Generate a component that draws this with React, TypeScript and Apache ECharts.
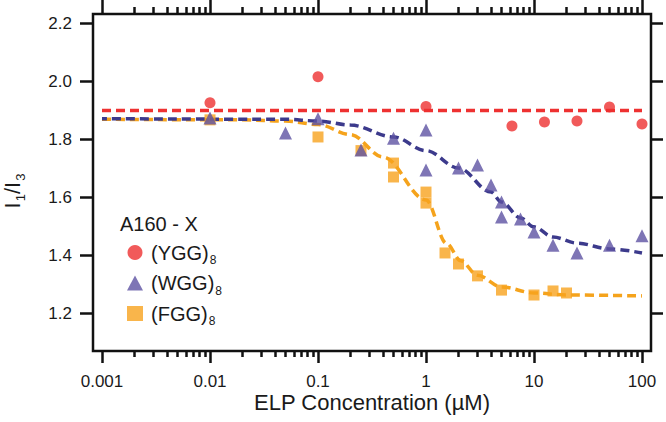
import React, { useEffect, useRef } from 'react';
import * as echarts from 'echarts';

// ---------- data ----------
const yggX = [0.01, 0.1, 1, 6.25, 12.5, 25, 50, 100];
const yggY = [1.925, 2.015, 1.912, 1.845, 1.859, 1.862, 1.91, 1.852];

const wggX = [0.01, 0.05, 0.1, 0.25, 0.5, 1, 1, 2, 3, 4, 5, 5, 7.5, 10, 15, 25, 50, 100];
const wggY = [1.872, 1.821, 1.87, 1.762, 1.803, 1.831, 1.693, 1.7, 1.71, 1.641, 1.583, 1.531, 1.524, 1.479, 1.434, 1.407, 1.434, 1.466];

const fggX = [0.01, 0.1, 0.25, 0.5, 0.5, 1, 1, 1.5, 2, 3, 5, 10, 15, 20];
const fggY = [1.866, 1.807, 1.76, 1.717, 1.669, 1.617, 1.579, 1.407, 1.369, 1.328, 1.279, 1.262, 1.276, 1.269];

// dashed fit curves
const yggFitX = [0.001, 100];
const yggFitY = [1.898, 1.898];
const wggFitX = [0.001, 0.05, 0.1, 0.2, 0.5, 1, 2, 4, 5, 7.5, 10, 15, 25, 50, 100];
const wggFitY = [1.87, 1.868, 1.862, 1.848, 1.807, 1.76, 1.7, 1.617, 1.583, 1.528, 1.497, 1.462, 1.441, 1.421, 1.407];
const fggFitX = [0.001, 0.02, 0.05, 0.1, 0.2, 0.4, 1, 1.55, 2.1, 3, 5, 10, 20, 100];
const fggFitY = [1.868, 1.866, 1.862, 1.85, 1.815, 1.738, 1.59, 1.44, 1.38, 1.33, 1.29, 1.269, 1.262, 1.259];

const seriesNames = ['YGG', 'WGG', 'FGG'];
const legendTitle = 'A160 - X';
const xTitle = 'ELP Concentration (\u00b5M)';

// axis tick structure
const decades = [0.001, 0.01, 0.1, 1, 10];
const minorMultipliers = [2, 3, 4, 5, 6, 7, 8, 9];

// ---------- style / layout ----------
const FONT = '"Liberation Sans", Arial, Helvetica, sans-serif';
const INK = '#1a1a1a';
const RED = '#ee3131';
const PURPLE = '#5e52a3';
const PURPLE_LINE = '#3c3a8c';
const ORANGE = '#f7a21e';
const ORANGE_LINE = '#f5a31c';

const BOX = { left: 93, top: 14, right: 651, bottom: 351 };
const W = 666;
const H = 422;
const TICK_GRID = { left: 102, top: 23, right: 642, bottom: 313 };
const OFF_B = BOX.bottom - TICK_GRID.bottom;
const OFF_T = TICK_GRID.top - BOX.top;
const OFF_L = TICK_GRID.left - BOX.left;
const OFF_R = BOX.right - TICK_GRID.right;
const MINOR_B = 6;
const MINOR_T = 7;
const TICK_W = 2.5;

const zip = (xs: number[], ys: number[]) => xs.map((x, i) => [x, ys[i]]);

export default function App() {
  const ref = useRef<HTMLDivElement>(null);
  useEffect(() => {
    document.body.style.margin = '0';
    const chart = echarts.init(ref.current!, null, { renderer: 'svg' });

    // minor log tick positions, expressed as decade exponents for a linear helper axis
    const minorExp: number[] = [];
    for (let i = 0; i < decades.length; i++) {
      for (let j = 0; j < minorMultipliers.length; j++) {
        minorExp.push(Math.log10(minorMultipliers[j] * decades[i]));
      }
    }
    const expMin = Math.log10(decades[0]);
    const expMax = Math.log10(decades[decades.length - 1] * 10);

    const logLabel = (v: number) => {
      const e = Math.round(Math.log10(v));
      return e < 0 ? Math.pow(10, e).toFixed(-e) : String(Math.pow(10, e));
    };

    const dash = [9, 5];

    const option: any = {
      animation: false,
      backgroundColor: '#ffffff',
      textStyle: { fontFamily: FONT, color: INK },
      title: {
        text: legendTitle,
        left: 120,
        top: 214,
        padding: 0,
        textStyle: { fontFamily: FONT, fontSize: 20, fontWeight: 'normal', color: INK },
      },
      legend: {
        data: seriesNames,
        orient: 'vertical',
        left: 127,
        top: 239,
        padding: 0,
        itemWidth: 16,
        itemHeight: 15,
        itemGap: 3.5,
        formatter: (name: string) => `{n|(${name})}{s|8}`,
        textStyle: {
          color: INK,
          fontFamily: FONT,
          rich: {
            n: { fontSize: 20, lineHeight: 20, fontFamily: FONT, color: INK, padding: [0, 0, 0, 3] },
            s: { fontSize: 12, lineHeight: 12, fontFamily: FONT, color: INK, padding: [15, 0, 0, 1] },
          },
        },
      },
      graphic: [
        {
          type: 'text',
          x: 12.5,
          y: 191,
          rotation: Math.PI / 2,
          style: {
            text: '{n|I}{s|1}{n|/I}{s|3}',
            align: 'center',
            verticalAlign: 'middle',
            fill: INK,
            rich: {
              n: { fontSize: 22, lineHeight: 22, fontFamily: FONT, fill: INK },
              s: { fontSize: 13, lineHeight: 13, fontFamily: FONT, fill: INK, padding: [16, 0, 0, 1] },
            },
          },
        },
      ],
      grid: [
        {
          left: BOX.left,
          top: BOX.top,
          width: BOX.right - BOX.left,
          height: BOX.bottom - BOX.top,
          show: true,
          borderColor: '#111',
          borderWidth: 2.5,
          backgroundColor: 'transparent',
        },
        {
          left: TICK_GRID.left,
          top: TICK_GRID.top,
          width: TICK_GRID.right - TICK_GRID.left,
          height: TICK_GRID.bottom - TICK_GRID.top,
          show: false,
        },
        // helper grid for the minor log ticks: x span of the tick grid, y span of the frame
        {
          left: TICK_GRID.left,
          top: BOX.top,
          width: TICK_GRID.right - TICK_GRID.left,
          height: BOX.bottom - BOX.top,
          show: false,
        },
      ],
      xAxis: [
        {
          gridIndex: 0,
          type: 'value',
          min: 0,
          max: 1,
          name: xTitle,
          nameLocation: 'middle',
          nameGap: 40,
          nameTextStyle: { fontSize: 22, fontFamily: FONT, color: INK },
          axisLine: { show: false },
          axisTick: { show: false },
          axisLabel: { show: false },
          splitLine: { show: false },
        },
        {
          gridIndex: 1,
          type: 'log',
          logBase: 10,
          min: 0.001,
          max: 100,
          position: 'bottom',
          offset: OFF_B,
          axisLine: { show: false },
          axisTick: { show: true, inside: false, length: 12, lineStyle: { color: '#111', width: TICK_W } },
          axisLabel: { show: true, margin: 22, fontSize: 17, fontFamily: FONT, color: INK, formatter: logLabel },
          splitLine: { show: false },
        },
        {
          gridIndex: 1,
          type: 'log',
          logBase: 10,
          min: 0.001,
          max: 100,
          position: 'top',
          offset: OFF_T,
          axisLine: { show: false },
          axisTick: { show: true, inside: false, length: 14, lineStyle: { color: '#111', width: TICK_W } },
          axisLabel: { show: false },
          splitLine: { show: false },
        },
        // helper axes (decade exponents) that carry the minor log ticks
        {
          gridIndex: 2,
          type: 'value',
          min: expMin,
          max: expMax,
          position: 'bottom',
          axisLine: { show: false },
          axisTick: {
            show: true,
            inside: false,
            length: MINOR_B,
            customValues: minorExp,
            lineStyle: { color: '#111', width: TICK_W },
          },
          axisLabel: { show: false },
          splitLine: { show: false },
        },
        {
          gridIndex: 2,
          type: 'value',
          min: expMin,
          max: expMax,
          position: 'top',
          axisLine: { show: false },
          axisTick: {
            show: true,
            inside: false,
            length: MINOR_T,
            customValues: minorExp,
            lineStyle: { color: '#111', width: TICK_W },
          },
          axisLabel: { show: false },
          splitLine: { show: false },
        },
      ],
      yAxis: [
        {
          gridIndex: 0,
          type: 'value',
          min: 0,
          max: 1,
          show: false,
        },
        {
          gridIndex: 1,
          type: 'value',
          min: 1.2,
          max: 2.2,
          interval: 0.2,
          position: 'left',
          offset: OFF_L,
          axisLine: { show: false },
          axisTick: { show: true, inside: false, length: 13, lineStyle: { color: '#111', width: TICK_W } },
          axisLabel: {
            show: true,
            margin: 21,
            fontSize: 17,
            fontFamily: FONT,
            color: INK,
            formatter: (v: number) => v.toFixed(1),
          },
          splitLine: { show: false },
        },
        {
          gridIndex: 1,
          type: 'value',
          min: 1.2,
          max: 2.2,
          interval: 0.2,
          position: 'right',
          offset: OFF_R,
          axisLine: { show: false },
          axisTick: { show: true, inside: false, length: 12, lineStyle: { color: '#111', width: TICK_W } },
          axisLabel: { show: false },
          splitLine: { show: false },
        },
        {
          gridIndex: 2,
          type: 'value',
          min: 0,
          max: 1,
          show: false,
        },
      ],
      series: [
        {
          type: 'line',
          name: 'fitYGG',
          xAxisIndex: 1,
          yAxisIndex: 1,
          data: zip(yggFitX, yggFitY),
          showSymbol: false,
          symbol: 'none',
          clip: false,
          lineStyle: { color: RED, width: 3.5, type: dash },
          z: 2,
        },
        {
          type: 'line',
          name: 'fitFGG',
          xAxisIndex: 1,
          yAxisIndex: 1,
          data: zip(fggFitX, fggFitY),
          showSymbol: false,
          symbol: 'none',
          smooth: 0.35,
          smoothMonotone: 'x',
          clip: false,
          lineStyle: { color: ORANGE_LINE, width: 3.5, type: dash },
          z: 2,
        },
        {
          type: 'line',
          name: 'fitWGG',
          xAxisIndex: 1,
          yAxisIndex: 1,
          data: zip(wggFitX, wggFitY),
          showSymbol: false,
          symbol: 'none',
          smooth: 0.35,
          smoothMonotone: 'x',
          clip: false,
          lineStyle: { color: PURPLE_LINE, width: 3.5, type: dash, dashOffset: 4 },
          z: 2,
        },
        {
          type: 'scatter',
          name: 'FGG',
          xAxisIndex: 1,
          yAxisIndex: 1,
          data: zip(fggX, fggY),
          symbol: 'rect',
          symbolSize: 11,
          itemStyle: { color: ORANGE },
          z: 3,
        },
        {
          type: 'scatter',
          name: 'WGG',
          xAxisIndex: 1,
          yAxisIndex: 1,
          data: zip(wggX, wggY),
          symbol: 'triangle',
          symbolSize: 13,
          itemStyle: { color: PURPLE },
          z: 4,
        },
        {
          type: 'scatter',
          name: 'YGG',
          xAxisIndex: 1,
          yAxisIndex: 1,
          data: zip(yggX, yggY),
          symbol: 'circle',
          symbolSize: 11,
          itemStyle: { color: RED },
          z: 5,
        },
      ],
    };

    chart.setOption(option);
    return () => chart.dispose();
  }, []);
  return <div ref={ref} style={{ width: W, height: H }} />;
}
